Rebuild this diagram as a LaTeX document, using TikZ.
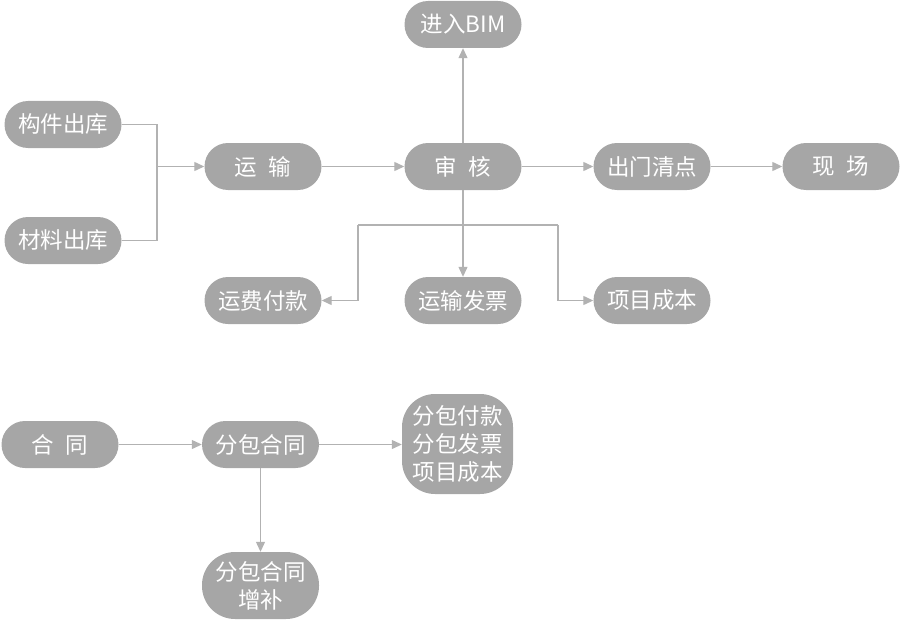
\documentclass[tikz,border=0pt]{standalone}
\usepackage{fontspec}
\setmainfont{Noto Sans CJK SC}
\usetikzlibrary{arrows.meta, positioning}
\definecolor{boxgray}{HTML}{A6A6A6}
\definecolor{linegray}{HTML}{B2B2B2}
\newcommand{\gap}{\hspace{0.5em}}

\begin{document}
\begin{tikzpicture}[
    x=1pt, y=-1pt,
    font=\fontsize{22.5}{28}\selectfont,
    pill/.style={rectangle, rounded corners=23.5pt, fill=boxgray, text=white,
                 minimum width=117pt, minimum height=47pt, inner sep=0pt,
                 align=center},
    tallpill/.style={pill, rounded corners=33pt},
    ln/.style={draw=linegray, line width=1.2pt},
    arr/.style={ln, -{Triangle[length=10pt, width=9pt]}, color=linegray}
]
\useasboundingbox (0,0) rectangle (901,623);
% upper flow
\node[pill] (gjck) at (63,124.5)  {构件出库};
\node[pill] (clck) at (63,240.5)  {材料出库};
\node[pill] (ys)   at (263,166.5) {运\gap 输};
\node[pill] (sh)   at (463,166.5) {审\gap 核};
\node[pill] (bim)  at (463,24.5)  {进入BIM};
\node[pill] (cmqd) at (652,166.5) {出门清点};
\node[pill] (xc)   at (841,166.5) {现\gap 场};
\node[pill] (yffk) at (263,300.5) {运费付款};
\node[pill] (ysfp) at (463,300.5) {运输发票};
\node[pill] (xmcb) at (652,300.5) {项目成本};
\coordinate (jn)  at (157,166.5);
\coordinate (brl) at (358,225);
\coordinate (brr) at (558,225);
\draw[ln] (gjck.east) -| (jn);
\draw[ln] (clck.east) -| (jn);
\draw[arr] (jn) -- (ys);
\draw[arr] (ys) -- (sh);
\draw[arr] (sh) -- (cmqd);
\draw[arr] (cmqd) -- (xc);
\draw[arr] (sh) -- (bim);
\draw[arr] (sh) -- (ysfp);
\draw[ln] (brl) -- (brr);
\draw[arr] (brl) |- (yffk.east);
\draw[arr] (brr) |- (xmcb.west);
% lower flow
\node[pill] (ht)   at (60,444.5)    {合\gap 同};
\node[pill] (fbht) at (260.5,444.5) {分包合同};
\node[tallpill, minimum width=111pt, minimum height=100pt]
      (fbqt) at (457.5,444) {分包付款\\分包发票\\项目成本};
\node[tallpill, minimum height=67pt]
      (fbzb) at (260.5,585.5) {分包合同\\增补};
\draw[arr] (ht) -- (fbht);
\draw[arr] (fbht) -- (fbqt.west |- fbht);
\draw[arr] (fbht) -- (fbzb);
\end{tikzpicture}
\end{document}
